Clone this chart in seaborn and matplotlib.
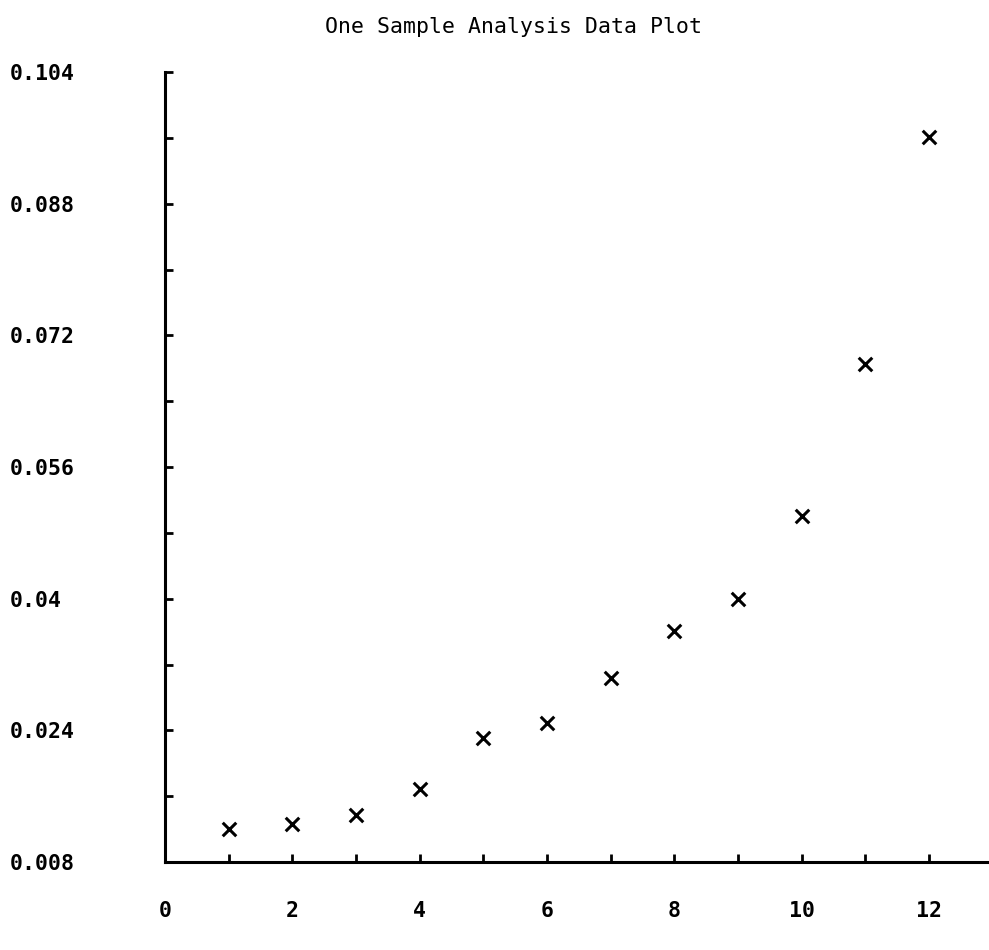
import numpy as np
import pandas as pd
import matplotlib
matplotlib.use('Agg')
import matplotlib.pyplot as plt
import seaborn as sns

# data
sample = [1, 2, 3, 4, 5, 6, 7, 8, 9, 10, 11, 12]
value = [0.0120, 0.0126, 0.0137, 0.0169, 0.0231, 0.0249,
         0.0304, 0.0361, 0.0400, 0.0500, 0.0685, 0.0961]
x_ticks = [0, 2, 4, 6, 8, 10, 12]
y_ticks = [0.008, 0.024, 0.04, 0.056, 0.072, 0.088, 0.104]
y_labels = ['0.008', '0.024', '0.04', '0.056', '0.072', '0.088', '0.104']

df = pd.DataFrame({'sample': sample, 'value': value})

sns.set_style('white')
plt.rcParams['font.family'] = ['DejaVu Sans Mono']

fig = plt.figure(figsize=(9.89, 9.5), dpi=100)
ax = fig.add_axes([0.167, 0.0926, 0.833, 0.8316])

sns.scatterplot(data=df, x='sample', y='value', marker='x', color='black',
                s=95, linewidth=2.2, ax=ax, legend=False)

ax.set_xlim(0, 12.94)
ax.set_ylim(0.008, 0.104)

ax.set_xticks(x_ticks)
ax.set_xticks([1, 3, 5, 7, 9, 11], minor=True)
ax.set_xticklabels([str(t) for t in x_ticks], fontsize=15.5, fontweight='bold')
ax.set_yticks(y_ticks)
ax.set_yticks([0.016, 0.032, 0.048, 0.064, 0.080, 0.096], minor=True)
ax.set_yticklabels(y_labels, fontsize=15.5, fontweight='bold', ha='left')

ax.tick_params(axis='both', which='both', direction='in', length=6, width=2,
               color='black', labelcolor='black', bottom=True, left=True)
ax.tick_params(axis='x', which='major', pad=28)
ax.tick_params(axis='y', which='major', pad=112)

for side in ['top', 'right']:
    ax.spines[side].set_visible(False)
for side in ['left', 'bottom']:
    ax.spines[side].set_linewidth(2.2)
    ax.spines[side].set_color('black')

ax.set_xlabel('')
ax.set_ylabel('')

fig.text(0.519, 0.972, 'One Sample Analysis Data Plot', ha='center', va='center',
         fontsize=15.5, color='black')

fig.savefig('out.png', dpi=100)
